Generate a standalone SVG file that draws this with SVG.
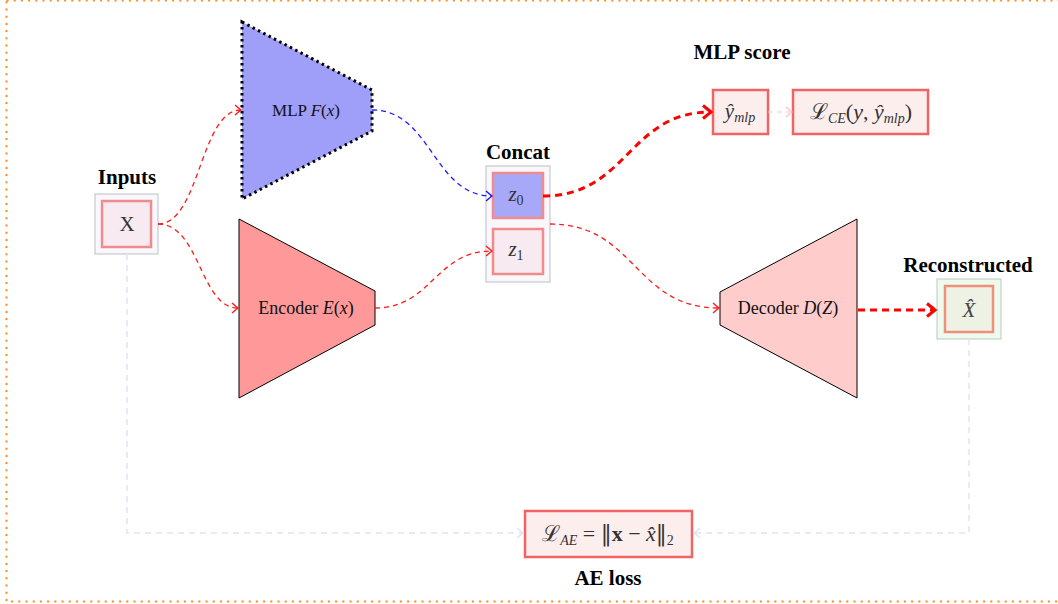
<svg xmlns="http://www.w3.org/2000/svg" width="1058" height="604" viewBox="0 0 1058 604">
<defs>
<style>
.lbl{font-family:"Liberation Serif","DejaVu Serif",serif;font-weight:bold;font-size:21px;fill:#000;text-anchor:middle}
.m{font-family:"Liberation Serif","DejaVu Serif",serif;font-size:21px;fill:#333;text-anchor:middle}
.nt{font-family:"Liberation Serif","DejaVu Serif",serif;font-size:18px;fill:#111;text-anchor:middle}
.it{font-style:italic}
.sub{font-size:14px;font-style:italic}
.dv{font-family:"DejaVu Serif",serif}
.red{fill:none;stroke:#ff1a1a;stroke-width:1.3;stroke-dasharray:5 4}
.redT{fill:none;stroke:#ff0000;stroke-width:3;stroke-dasharray:7 5}
.blue{fill:none;stroke:#1a1aff;stroke-width:1.3;stroke-dasharray:5 4}
.pink{fill:none;stroke:#ffc4c4;stroke-width:1.2;stroke-dasharray:5 4}
.lav{fill:none;stroke:#e2e2f8;stroke-width:1.5;stroke-dasharray:6 5}
.outer{fill:#f7f7fc;stroke:#c8c8d0;stroke-width:1.2}
.inner{stroke:#f28c8c;stroke-width:2.5}
.res{fill:#fdeeee;stroke:#f06464;stroke-width:2.5}
</style>
<marker id="ar" markerUnits="userSpaceOnUse" markerWidth="12" markerHeight="14" refX="9" refY="7" orient="auto" overflow="visible"><path d="M3,2 Q7,5.5 9,7 Q7,8.5 3,12" fill="none" stroke="#ff1a1a" stroke-width="1.4"/></marker>
<marker id="arT" markerUnits="userSpaceOnUse" markerWidth="14" markerHeight="18" refX="11" refY="9" orient="auto" overflow="visible"><path d="M3,2.5 Q8.5,7 11,9 Q8.5,11 3,15.5" fill="none" stroke="#ff0000" stroke-width="3"/></marker>
<marker id="ab" markerUnits="userSpaceOnUse" markerWidth="12" markerHeight="14" refX="9" refY="7" orient="auto" overflow="visible"><path d="M3,2 Q7,5.5 9,7 Q7,8.5 3,12" fill="none" stroke="#1a1aff" stroke-width="1.4"/></marker>
<marker id="ap" markerUnits="userSpaceOnUse" markerWidth="12" markerHeight="14" refX="9" refY="7" orient="auto" overflow="visible"><path d="M3,2 Q7,5.5 9,7 Q7,8.5 3,12" fill="none" stroke="#ffc4c4" stroke-width="1.3"/></marker>
<marker id="al" markerUnits="userSpaceOnUse" markerWidth="12" markerHeight="14" refX="9" refY="7" orient="auto" overflow="visible"><path d="M3,2 Q7,5.5 9,7 Q7,8.5 3,12" fill="none" stroke="#e2e2f8" stroke-width="1.5"/></marker>
</defs>
<rect id="frame" x="6.5" y="0.5" width="1060" height="601" fill="none" stroke="#ff8c1a" stroke-width="2" stroke-dasharray="2 5.2"/>

<g id="inputs">
<text class="lbl" x="127" y="184">Inputs</text>
<rect class="outer" x="95" y="194" width="63" height="60"/>
<rect class="inner" x="102" y="201" width="49" height="46" fill="#f7eaf0"/>
<text class="m" x="127" y="231">X</text>
</g>

<g id="mlp">
<polygon points="242,22 372,90 372,131 242,199" fill="#9f9ff9" stroke="#000" stroke-width="3" stroke-dasharray="2.5 3.5"/>
<text class="nt" x="306" y="116" style="font-size:17px">MLP <tspan class="it">F</tspan>(<tspan class="it">x</tspan>)</text>
</g>

<g id="encoder">
<polygon points="239,219 375,291 375,325 239,398" fill="#ff9999" stroke="#000" stroke-width="1"/>
<text class="nt" x="306" y="314">Encoder <tspan class="it">E</tspan>(<tspan class="it">x</tspan>)</text>
</g>

<g id="concat">
<text class="lbl" x="518" y="159">Concat</text>
<rect class="outer" x="486" y="166" width="64" height="116"/>
<rect class="inner" x="493" y="173" width="50" height="45" fill="#a8a8f8"/>
<text class="m" x="516" y="201"><tspan class="it">z</tspan><tspan class="sub" dy="4" style="font-style:normal">0</tspan></text>
<rect class="inner" x="493" y="229" width="50" height="45" fill="#f7eaf0"/>
<text class="m" x="516" y="256"><tspan class="it">z</tspan><tspan class="sub" dy="4" style="font-style:normal">1</tspan></text>
</g>

<g id="yhat">
<text class="lbl" x="742" y="59">MLP score</text>
<rect class="res" x="713" y="90" width="55" height="44"/>
<text class="m" x="740" y="118"><tspan class="it">ŷ</tspan><tspan class="sub" dy="4">mlp</tspan></text>
</g>

<g id="lce">
<rect class="res" x="793" y="90" width="135" height="44"/>
<text class="m" x="861" y="119" style="font-size:22px"><tspan class="dv">ℒ</tspan><tspan class="sub" dy="4">CE</tspan><tspan dy="-4">(</tspan><tspan class="it">y</tspan>, <tspan class="it">ŷ</tspan><tspan class="sub" dy="4">mlp</tspan><tspan dy="-4">)</tspan></text>
</g>

<g id="decoder">
<polygon points="720,292 857,219 857,398 720,325" fill="#ffcccc" stroke="#000" stroke-width="1"/>
<text class="nt" x="788" y="314">Decoder <tspan class="it">D</tspan>(<tspan class="it">Z</tspan>)</text>
</g>

<g id="recon">
<text class="lbl" x="968" y="272">Reconstructed</text>
<rect x="937" y="279" width="64" height="60" fill="#eefaee" stroke="#c4d4c4" stroke-width="1.2"/>
<rect x="945" y="286" width="48" height="46" fill="#eef2e4" stroke="#f0907c" stroke-width="2.5"/>
<text class="m it" x="969" y="317" style="fill:#444">X̂</text>
</g>

<g id="aeloss">
<rect class="res" x="525" y="511" width="167" height="46"/>
<text class="m" x="608" y="541" style="font-size:22px"><tspan class="dv">ℒ</tspan><tspan class="sub" dy="4">AE</tspan><tspan dy="-4"> = </tspan><tspan class="dv">‖</tspan><tspan font-weight="bold">x</tspan> − <tspan class="it">x̂</tspan><tspan class="dv">‖</tspan><tspan class="sub" dy="4" style="font-style:normal">2</tspan></text>
<text class="lbl" x="608" y="585">AE loss</text>
</g>

<g id="connectors">
<path class="red" d="M158,224 C200,224 200,110 241,110" marker-end="url(#ar)"/>
<path class="red" d="M158,224 C200,224 200,308 238,308" marker-end="url(#ar)"/>
<path class="blue" d="M372,110 C432,110 433,196 492,196" marker-end="url(#ab)"/>
<path class="red" d="M375,308 C432,308 435,251 492,251" marker-end="url(#ar)"/>
<path class="redT" d="M543,196 C628,196 628,112 711,112" marker-end="url(#arT)"/>
<path class="pink" d="M768,112 L792,112" marker-end="url(#ap)"/>
<path class="red" d="M550,224 C636,224 634,308 719,308" marker-end="url(#ar)"/>
<path class="redT" d="M858,310 L935,310" marker-end="url(#arT)"/>
<path class="lav" d="M127,254 L127,533 L523,533" marker-end="url(#al)"/>
<path class="lav" d="M969,339 L969,533 L694,533" marker-end="url(#al)"/>
</g>
</svg>
